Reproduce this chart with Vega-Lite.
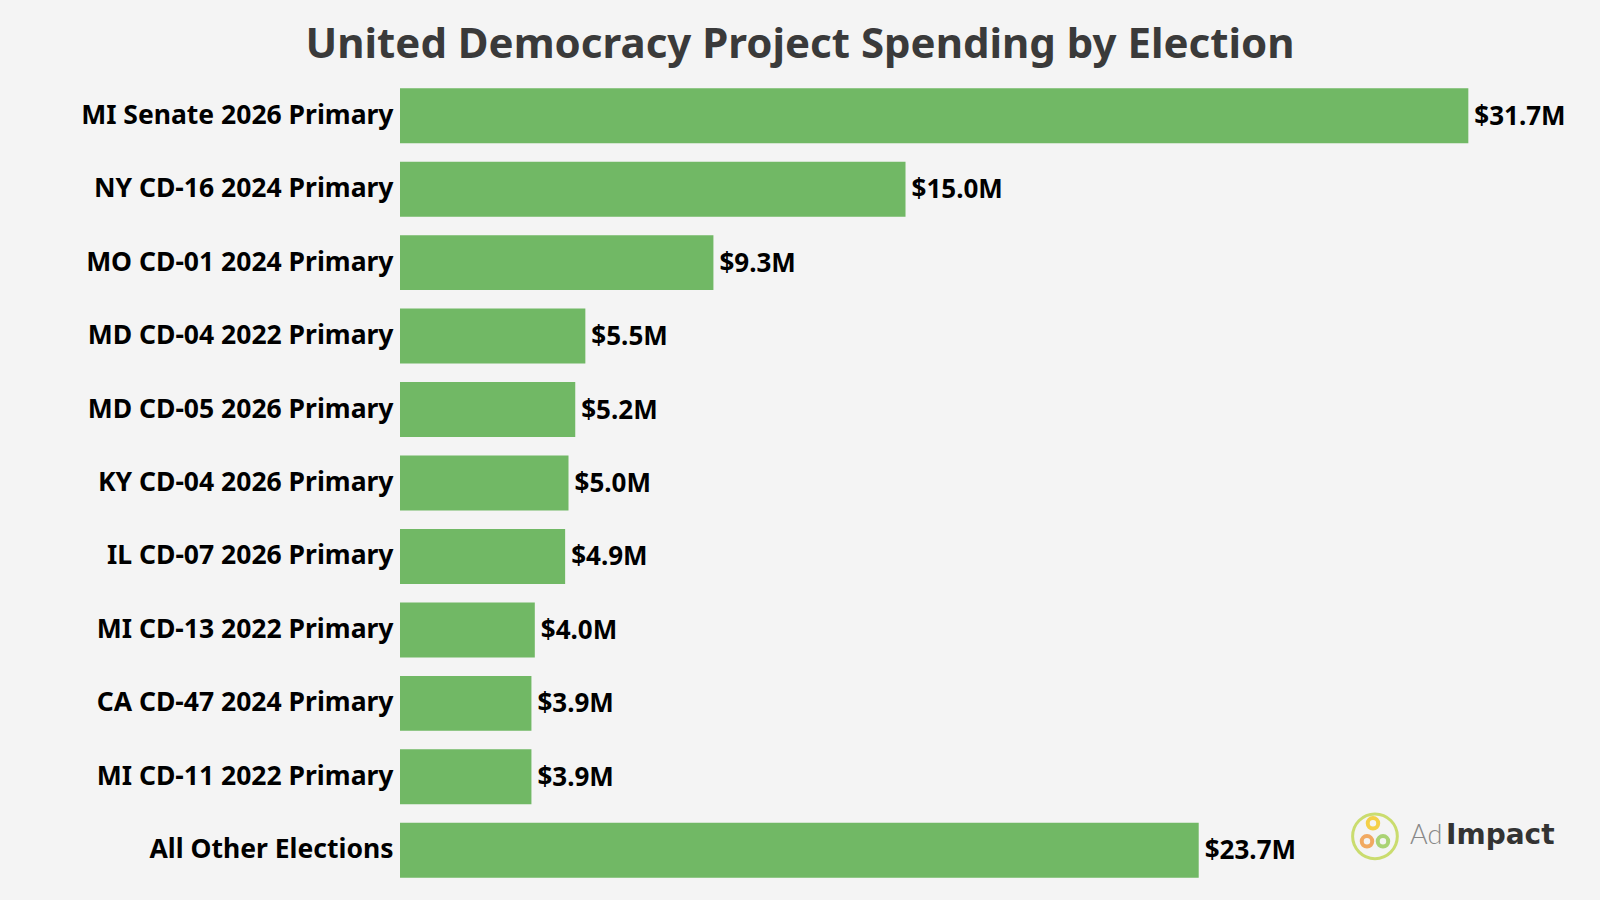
{
  "$schema": "https://vega.github.io/schema/vega-lite/v6.json",
  "width": 1100,
  "height": 808,
  "autosize": {"type": "none"},
  "padding": {"left": 400, "top": 79, "right": 100, "bottom": 13},
  "background": "#f4f4f4",
  "title": {
    "text": "United Democracy Project Spending by Election",
    "anchor": "middle",
    "frame": "group",
    "dx": -150,
    "fontSize": 42,
    "font": "Noto Sans",
    "fontWeight": "bold",
    "color": "#3a3a3a",
    "offset": 12
  },
  "config": {"view": {"stroke": null}},
  "datasets": {
    "spend": [
      {"election": "MI Senate 2026 Primary", "value": 31.7, "label": "$31.7M"},
      {"election": "NY CD-16 2024 Primary", "value": 15.0, "label": "$15.0M"},
      {"election": "MO CD-01 2024 Primary", "value": 9.3, "label": "$9.3M"},
      {"election": "MD CD-04 2022 Primary", "value": 5.5, "label": "$5.5M"},
      {"election": "MD CD-05 2026 Primary", "value": 5.2, "label": "$5.2M"},
      {"election": "KY CD-04 2026 Primary", "value": 5.0, "label": "$5.0M"},
      {"election": "IL CD-07 2026 Primary", "value": 4.9, "label": "$4.9M"},
      {"election": "MI CD-13 2022 Primary", "value": 4.0, "label": "$4.0M"},
      {"election": "CA CD-47 2024 Primary", "value": 3.9, "label": "$3.9M"},
      {"election": "MI CD-11 2022 Primary", "value": 3.9, "label": "$3.9M"},
      {"election": "All Other Elections", "value": 23.7, "label": "$23.7M"}
    ],
    "logo": [
      {"election": "All Other Elections", "x": 29.97, "ad": "Ad", "impact": "Impact", "ix": 31.04, "cx": 28.93}
    ]
  },
  "encoding": {
    "y": {
      "field": "election",
      "type": "nominal",
      "sort": null,
      "scale": {"paddingInner": 0.252, "paddingOuter": 0.126},
      "axis": {
        "title": null,
        "ticks": false,
        "domain": false,
        "labelFont": "Noto Sans",
        "labelFontWeight": "bold",
        "labelFontSize": 26.5,
        "labelColor": "#000000",
        "labelPadding": 7,
        "labelLimit": 400
      }
    }
  },
  "layer": [
    {
      "data": {"name": "spend"},
      "mark": {"type": "bar", "color": "#71b865"},
      "encoding": {
        "x": {"field": "value", "type": "quantitative", "scale": {"domain": [0, 32.64], "nice": false}, "axis": null}
      }
    },
    {
      "data": {"name": "spend"},
      "mark": {"type": "text", "align": "left", "baseline": "middle", "dx": 6, "dy": 1, "font": "Noto Sans", "fontWeight": "bold", "fontSize": 26, "color": "#000000"},
      "encoding": {
        "x": {"field": "value", "type": "quantitative"},
        "text": {"field": "label"}
      }
    },
    {
      "data": {"name": "logo"},
      "mark": {"type": "point", "shape": "circle", "size": 2000, "filled": false, "strokeWidth": 3, "color": "#b9d336", "yOffset": -14},
      "encoding": {"x": {"field": "cx", "type": "quantitative"}}
    },
    {
      "data": {"name": "logo"},
      "mark": {"type": "point", "shape": "circle", "size": 110, "filled": false, "strokeWidth": 4, "color": "#f5c200", "yOffset": -27, "xOffset": -2},
      "encoding": {"x": {"field": "cx", "type": "quantitative"}}
    },
    {
      "data": {"name": "logo"},
      "mark": {"type": "point", "shape": "circle", "size": 110, "filled": false, "strokeWidth": 4, "color": "#f08a24", "yOffset": -9, "xOffset": -8},
      "encoding": {"x": {"field": "cx", "type": "quantitative"}}
    },
    {
      "data": {"name": "logo"},
      "mark": {"type": "point", "shape": "circle", "size": 110, "filled": false, "strokeWidth": 4, "color": "#8cc63f", "yOffset": -9, "xOffset": 8},
      "encoding": {"x": {"field": "cx", "type": "quantitative"}}
    },
    {
      "data": {"name": "logo"},
      "mark": {"type": "text", "align": "left", "baseline": "middle", "font": "Lato", "fontWeight": 300, "fontSize": 27, "color": "#888888", "dy": -14},
      "encoding": {"x": {"field": "x", "type": "quantitative"}, "text": {"field": "ad"}}
    },
    {
      "data": {"name": "logo"},
      "mark": {"type": "text", "align": "left", "baseline": "middle", "font": "DejaVu Sans", "fontWeight": "bold", "fontSize": 28, "color": "#333333", "dy": -14},
      "encoding": {"x": {"field": "ix", "type": "quantitative"}, "text": {"field": "impact"}}
    }
  ]
}
